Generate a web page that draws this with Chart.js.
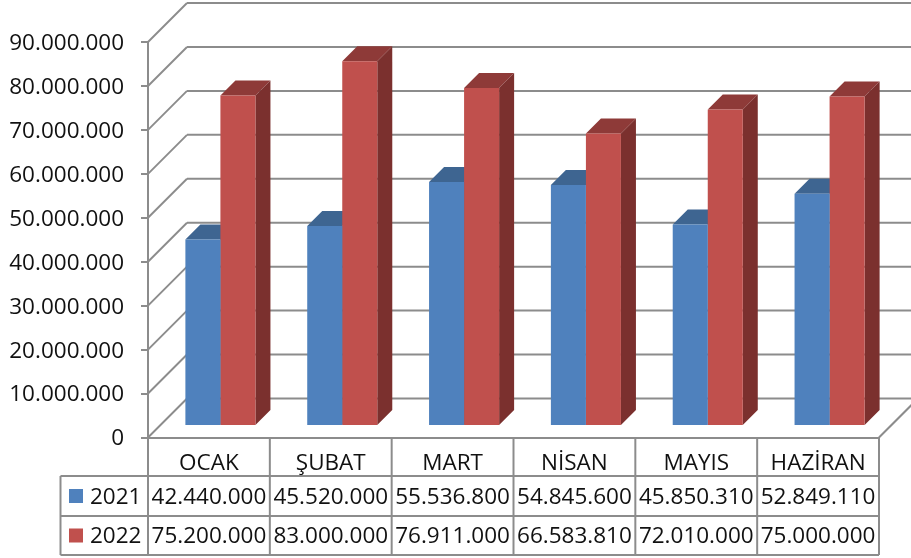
<!DOCTYPE html>
<html>
<head>
<meta charset="utf-8">
<title>2021 - 2022</title>
<script src="https://cdn.jsdelivr.net/npm/chart.js@4/dist/chart.umd.min.js"></script>
<style>
    html, body { margin: 0; padding: 0; background: #fff; }
    canvas { display: block; }
</style>
</head>
<body>
<canvas id="chart" width="911" height="558"></canvas>
<script>
const months = ["OCAK", "ŞUBAT", "MART", "NİSAN", "MAYIS", "HAZİRAN"];
const years = ["2021", "2022"];
const values2021 = [42440000, 45520000, 55536800, 54845600, 45850310, 52849110];
const values2022 = [75200000, 83000000, 76911000, 66583810, 72010000, 75000000];
const yMax = 90000000;
const yStep = 10000000;

const fontName = "Open Sans";
const fontSize = 22.5;
const textColor = "#111";
const lineColor = "#8c8c8c";
const wallDepth = 39;
const barInset = 11.5;
const barDepth = 15;
const frontColors = ["#4f81bd", "#c0504d"];
const topColors = ["#3e6591", "#8e3a38"];
const sideColors = ["#325379", "#7b302e"];

const formatNumber = (n) => String(n).replace(/\B(?=(\d{3})+(?!\d))/g, ".");

const poly = (ctx, pts, color) => {
    ctx.fillStyle = color;
    ctx.beginPath();
    pts.forEach((p, i) => i ? ctx.lineTo(p[0], p[1]) : ctx.moveTo(p[0], p[1]));
    ctx.closePath();
    ctx.fill();
};

const seg = (ctx, x1, y1, x2, y2) => {
    ctx.beginPath();
    ctx.moveTo(x1, y1);
    ctx.lineTo(x2, y2);
    ctx.stroke();
};

// the back wall and the sides of the bars, the fronts are normal chart.js bars
const depthPlugin = {
    id: "depth",
    beforeDatasetsDraw(chart) {
        const { ctx, scales, chartArea } = chart;
        ctx.save();
        ctx.strokeStyle = lineColor;
        ctx.lineWidth = 2;
        scales.y.ticks.forEach((t) => {
            const y = scales.y.getPixelForValue(t.value);
            seg(ctx, chartArea.left, y, chartArea.left + wallDepth, y - wallDepth);
            seg(ctx, chartArea.left + wallDepth, y - wallDepth, chartArea.right + wallDepth, y - wallDepth);
        });
        seg(ctx, chartArea.right, chartArea.bottom, chartArea.right + wallDepth, chartArea.bottom - wallDepth);
        ctx.restore();

        ctx.save();
        ctx.translate(barInset, -barInset);
        chart.data.datasets.forEach((ds, i) => {
            chart.getDatasetMeta(i).data.forEach((bar) => {
                const half = bar.width / 2;
                const l = bar.x - half, r = bar.x + half;
                poly(ctx, [[l, bar.y], [l + barDepth, bar.y - barDepth], [r + barDepth, bar.y - barDepth], [r, bar.y]], topColors[i]);
                poly(ctx, [[r, bar.y], [r + barDepth, bar.y - barDepth], [r + barDepth, bar.base - barDepth], [r, bar.base]], sideColors[i]);
            });
        });
    },
    afterDatasetsDraw(chart) {
        chart.ctx.restore();
    }
};

// data table under the chart
const tablePlugin = {
    id: "dataTable",
    afterDraw(chart) {
        const { ctx, scales, chartArea } = chart;
        const left = chartArea.left, right = chartArea.right, top = chartArea.bottom;
        const tableLeft = 60.5;
        const rowTops = [476, 516, 555];
        const colW = (right - left) / months.length;
        const rows = [values2021, values2022];

        ctx.save();
        ctx.strokeStyle = lineColor;
        ctx.lineWidth = 2;
        rowTops.forEach((y) => seg(ctx, tableLeft, y, right, y));
        seg(ctx, tableLeft, rowTops[0], tableLeft, rowTops[2]);
        for (let c = 0; c <= months.length; c++) {
            const x = left + c * colW;
            seg(ctx, x, top, x, rowTops[2]);
        }

        ctx.font = fontSize + "px '" + fontName + "'";
        ctx.textBaseline = "middle";
        rows.forEach((vals, r) => {
            const y = (rowTops[r] + rowTops[r + 1]) / 2;
            ctx.fillStyle = frontColors[r];
            ctx.fillRect(69, y - 7, 14, 14);
            ctx.fillStyle = textColor;
            ctx.textAlign = "left";
            ctx.fillText(years[r], 90, y + 1.5);
            ctx.textAlign = "center";
            vals.forEach((v, c) => ctx.fillText(formatNumber(v), scales.x.getPixelForValue(c), y + 1.5));
        });
        ctx.restore();
    }
};

// open sans sits high on the middle baseline, push the y labels down a bit
const nudgeYLabels = (scale) => {
    if (scale.nudged) return;
    scale.nudged = true;
    const drawLabels = scale.drawLabels;
    scale.drawLabels = function (area) {
        this.ctx.save();
        this.ctx.translate(0, 1.5);
        drawLabels.call(this, area);
        this.ctx.restore();
    };
};

new Chart(document.getElementById("chart"), {
    type: "bar",
    data: {
        labels: months,
        datasets: [
            { label: years[0], data: values2021, backgroundColor: frontColors[0] },
            { label: years[1], data: values2022, backgroundColor: frontColors[1] }
        ]
    },
    options: {
        responsive: false,
        animation: false,
        layout: { padding: { top: 42, right: 32, left: 0, bottom: 0 } },
        datasets: { bar: { categoryPercentage: 0.575, barPercentage: 1, clip: false } },
        plugins: { legend: { display: false }, tooltip: { enabled: false } },
        scales: {
            x: {
                afterFit: (scale) => { scale.height = 120.5; },
                grid: { display: false },
                border: { display: true, color: lineColor, width: 2 },
                ticks: { color: textColor, font: { family: fontName, size: fontSize }, padding: 5, maxRotation: 0 }
            },
            y: {
                min: 0,
                max: yMax,
                afterFit: (scale) => { scale.width = 148; nudgeYLabels(scale); },
                grid: { drawOnChartArea: false, tickLength: 7, tickColor: lineColor, lineWidth: 2 },
                border: { display: true, color: lineColor, width: 2 },
                ticks: { stepSize: yStep, color: textColor, font: { family: fontName, size: fontSize }, padding: 17, callback: (v) => formatNumber(v) }
            }
        }
    },
    plugins: [depthPlugin, tablePlugin]
});
</script>
</body>
</html>
